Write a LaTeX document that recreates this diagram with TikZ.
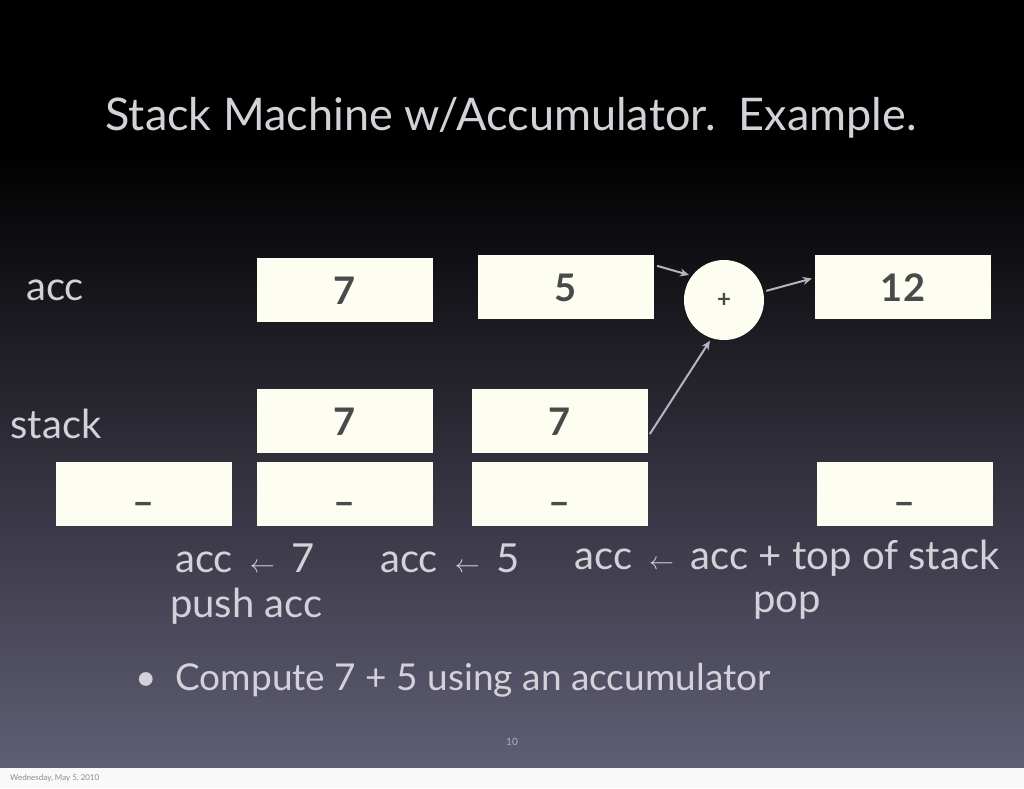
\documentclass[tikz,border=0pt]{standalone}
\usepackage{fontspec}
\setmainfont{Lato}
\usetikzlibrary{positioning,arrows.meta,calc}
\definecolor{slidebot}{HTML}{605E75}
\definecolor{slidetop}{HTML}{000000}
\definecolor{cellfill}{HTML}{FDFDF2}
\definecolor{celltext}{HTML}{4A4A4A}
\definecolor{slidetext}{HTML}{D2D2D8}
\definecolor{arrowgray}{HTML}{B4B4C2}
\definecolor{footgray}{HTML}{8A8A96}
\tikzset{
  cell/.style={fill=cellfill, minimum width=176pt, minimum height=64pt, inner sep=0, text height=28pt, text depth=0pt, text=celltext, font=\fontsize{38}{38}\selectfont\bfseries},
  lbl/.style={text=slidetext, inner sep=0, font=\fontsize{40}{46}\selectfont},
  feed/.style={draw=arrowgray, line width=2pt, -{Stealth[length=9pt,width=8pt]}, shorten <=3pt, shorten >=3pt}
}
\newcommand{\assignarrow}{\ \,$\scriptstyle\leftarrow$\ \,}
\begin{document}
\begin{tikzpicture}[x=1pt,y=-1pt]
\useasboundingbox (0,0) rectangle (1024,788);
% slide background
\fill[slidetop] (0,0) rectangle (1024,150);
\shade[top color=slidetop, bottom color=slidebot] (0,150) rectangle (1024,768);
\fill[white!95!footgray] (0,768) rectangle (1024,788);

% title
\node[lbl, font=\fontsize{45}{50}\selectfont] (title) at (511,118) {Stack Machine w/Accumulator.\ \ Example.};

% row labels
\node[lbl] (acclab) at (55,290) {acc};
\node[lbl] (stacklab) at (56,424) {stack};

% acc row
\node[cell] (acc7) at (345,290) {7};
\node[cell] (acc5) at (566,287) {5};
\node[circle, fill=cellfill, minimum size=80pt, inner sep=0, text=celltext, font=\fontsize{24}{24}\selectfont\bfseries] (plus) at (724,300) {+};
\node[cell] (acc12) at (903,287) {12};

% stack rows
\node[cell] (top7a) at (345,421) {7};
\node[cell] (top7b) at (560,421) {7};
\foreach \n/\x in {1/144,2/345,3/560,4/905}
  \node[cell] (bot\n) at (\x,494) {\raisebox{-7pt}{--}};

% arrows into and out of the adder
\draw[feed] (acc5.14) -- (plus.143);
\draw[feed] (top7b.-10) -- (plus.252);
\draw[feed] (plus.12) -- (acc12.174);

% step captions
\node[lbl, anchor=west] (cap1) at (175,558) {acc\assignarrow7};
\node[lbl, anchor=west] (cap1b) at (170,606) {push acc};
\node[lbl, anchor=west] (cap2) at (380,558) {acc\assignarrow5};
\node[lbl] (cap3) at (787,558) {acc\assignarrow acc + top of stack};
\node[lbl] (cap3b) at (787,606) {pop};

% bullet
\node[lbl, anchor=west, font=\fontsize{37}{42}\selectfont] (bullet) at (135,680) {\textbullet\ \ Compute 7 + 5 using an accumulator};

% page number and footer
\node[text=slidetext!70!slidebot, inner sep=0, font=\fontsize{10}{10}\selectfont] (pagenum) at (512,742) {10};
\node[text=footgray, inner sep=0, anchor=west, font=\fontsize{8}{8}\selectfont] (footer) at (10,778) {Wednesday, May 5, 2010};
\end{tikzpicture}
\end{document}
